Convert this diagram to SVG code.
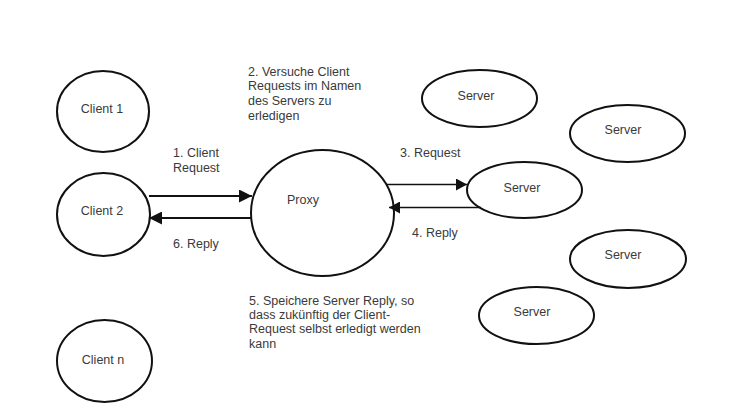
<svg xmlns="http://www.w3.org/2000/svg" width="755" height="408" viewBox="0 0 755 408">
<style>
.n{fill:none;stroke:#111;stroke-width:2}
.t{font-family:"Liberation Sans",Arial,sans-serif;font-size:12.5px;fill:#3a3a3a}
.c{text-anchor:middle}
.e{stroke:#111;fill:none}
</style>
<defs>
<marker id="ah" viewBox="0 0 13 13" refX="13" refY="6.5" markerWidth="13" markerHeight="13" markerUnits="userSpaceOnUse" orient="auto"><path d="M0,0 L13,6.5 L0,13 Z" fill="#111"/></marker>
<marker id="ah2" viewBox="0 0 11 12" refX="11" refY="6" markerWidth="11" markerHeight="12" markerUnits="userSpaceOnUse" orient="auto"><path d="M0,0 L11,6 L0,12 Z" fill="#111"/></marker>
</defs>
<rect width="755" height="408" fill="#fff"/>
<g id="client1"><ellipse class="n" cx="103" cy="111.5" rx="46" ry="40.5"/><text class="t c" x="102" y="112.5">Client 1</text></g>
<g id="client2"><ellipse class="n" cx="103.5" cy="214.5" rx="46.5" ry="41.5"/><text class="t c" x="102" y="215">Client 2</text></g>
<g id="clientn"><ellipse class="n" cx="104.5" cy="361" rx="47.5" ry="41"/><text class="t c" x="103" y="363.5">Client n</text></g>
<g id="proxy"><ellipse class="n" cx="322.5" cy="213" rx="71.5" ry="63"/><text class="t c" x="303" y="203.5">Proxy</text></g>
<g id="server1"><ellipse class="n" cx="479.5" cy="98.5" rx="57.5" ry="28.5"/><text class="t c" x="476" y="99.5">Server</text></g>
<g id="server2"><ellipse class="n" cx="627.5" cy="133.5" rx="57.5" ry="28.5"/><text class="t c" x="623" y="133.5">Server</text></g>
<g id="server3"><ellipse class="n" cx="524.5" cy="190" rx="57.5" ry="28"/><text class="t c" x="522" y="191.5">Server</text></g>
<g id="server4"><ellipse class="n" cx="628" cy="259" rx="58" ry="29"/><text class="t c" x="623" y="258.5">Server</text></g>
<g id="server5"><ellipse class="n" cx="536.5" cy="315.5" rx="57.5" ry="28.5"/><text class="t c" x="532" y="315.5">Server</text></g>
<g id="connectors">
<line class="e" stroke-width="2" x1="149" y1="196" x2="252" y2="196" marker-end="url(#ah)"/>
<line class="e" stroke-width="2" x1="252" y1="218" x2="149" y2="218" marker-end="url(#ah)"/>
<line class="e" stroke-width="1.5" x1="387" y1="184.5" x2="467" y2="184.5" marker-end="url(#ah2)"/>
<line class="e" stroke-width="1.5" x1="481" y1="207.5" x2="389" y2="207.5" marker-end="url(#ah2)"/>
</g>
<g id="labels">
<text class="t" x="248" y="75.5">2. Versuche Client</text>
<text class="t" x="248" y="90.2">Requests im Namen</text>
<text class="t" x="248" y="104.9">des Servers zu</text>
<text class="t" x="248" y="119.6">erledigen</text>
<text class="t" x="173" y="156.5">1. Client</text>
<text class="t" x="173" y="171.5">Request</text>
<text class="t" x="173" y="248">6. Reply</text>
<text class="t" x="400" y="157">3. Request</text>
<text class="t" x="412" y="237">4. Reply</text>
<text class="t" x="249" y="304.5">5. Speichere Server Reply, so</text>
<text class="t" x="249" y="318.9">dass zukünftig der Client-</text>
<text class="t" x="249" y="333.3">Request selbst erledigt werden</text>
<text class="t" x="249" y="347.7">kann</text>
</g>
</svg>
